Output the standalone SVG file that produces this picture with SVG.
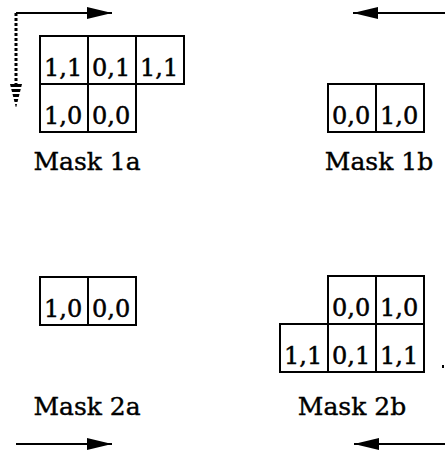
<svg xmlns="http://www.w3.org/2000/svg" width="445" height="452" viewBox="0 0 445 452">
<style>
.cell{fill:#fff;stroke:#000;stroke-width:2}
.t{font-family:"DejaVu Serif",serif;font-size:24px;fill:#000;stroke:#000;stroke-width:0.5}
.cap{font-family:"DejaVu Serif",serif;font-size:25px;fill:#000;stroke:#000;stroke-width:0.4;text-anchor:middle}
.ln{stroke:#000;stroke-width:2;fill:none}
</style>
<defs>
<marker id="ah" markerWidth="25" markerHeight="12" refX="25" refY="6" orient="auto" markerUnits="userSpaceOnUse">
<path d="M0,0 L25,6 L0,12 Z" fill="#000"/>
</marker>
<pattern id="stripes" width="6" height="5" patternUnits="userSpaceOnUse" y="84">
<rect x="0" y="0" width="6" height="3" fill="#000"/>
</pattern>
</defs>
<rect width="445" height="452" fill="#fff"/>
<g id="connectors">
<line class="ln" x1="16" y1="13" x2="112" y2="13" marker-end="url(#ah)"/>
<line x1="16" y1="13" x2="16" y2="86" stroke="#000" stroke-width="3" stroke-dasharray="3,2"/>
<polygon points="10,84 22,84 16,108" fill="url(#stripes)"/>
<line class="ln" x1="445" y1="13" x2="353" y2="13" marker-end="url(#ah)"/>
<line class="ln" x1="16" y1="444" x2="112" y2="444" marker-end="url(#ah)"/>
<line class="ln" x1="445" y1="444" x2="354" y2="444" marker-end="url(#ah)"/>
<rect x="442" y="365" width="2" height="3" fill="#000"/>
</g>
<g id="mask1a">
<rect class="cell" x="40" y="36" width="48" height="48"/>
<rect class="cell" x="88" y="36" width="48" height="48"/>
<rect class="cell" x="136" y="36" width="48" height="48"/>
<rect class="cell" x="40" y="84" width="48" height="48"/>
<rect class="cell" x="88" y="84" width="48" height="48"/>
<text class="t" x="44" y="76">1,1</text>
<text class="t" x="92" y="76">0,1</text>
<text class="t" x="140" y="76">1,1</text>
<text class="t" x="44" y="124">1,0</text>
<text class="t" x="92" y="124">0,0</text>
<text class="cap" x="87" y="170">Mask 1a</text>
</g>
<g id="mask1b">
<rect class="cell" x="328" y="84" width="48" height="48"/>
<rect class="cell" x="376" y="84" width="48" height="48"/>
<text class="t" x="332" y="124">0,0</text>
<text class="t" x="380" y="124">1,0</text>
<text class="cap" x="379" y="170">Mask 1b</text>
</g>
<g id="mask2a">
<rect class="cell" x="40" y="277" width="48" height="48"/>
<rect class="cell" x="88" y="277" width="48" height="48"/>
<text class="t" x="44" y="317">1,0</text>
<text class="t" x="92" y="317">0,0</text>
<text class="cap" x="87" y="415">Mask 2a</text>
</g>
<g id="mask2b">
<rect class="cell" x="328" y="276" width="48" height="48"/>
<rect class="cell" x="376" y="276" width="48" height="48"/>
<rect class="cell" x="280" y="324" width="48" height="48"/>
<rect class="cell" x="328" y="324" width="48" height="48"/>
<rect class="cell" x="376" y="324" width="48" height="48"/>
<text class="t" x="332" y="316">0,0</text>
<text class="t" x="380" y="316">1,0</text>
<text class="t" x="284" y="364">1,1</text>
<text class="t" x="332" y="364">0,1</text>
<text class="t" x="380" y="364">1,1</text>
<text class="cap" x="352" y="415">Mask 2b</text>
</g>
</svg>
